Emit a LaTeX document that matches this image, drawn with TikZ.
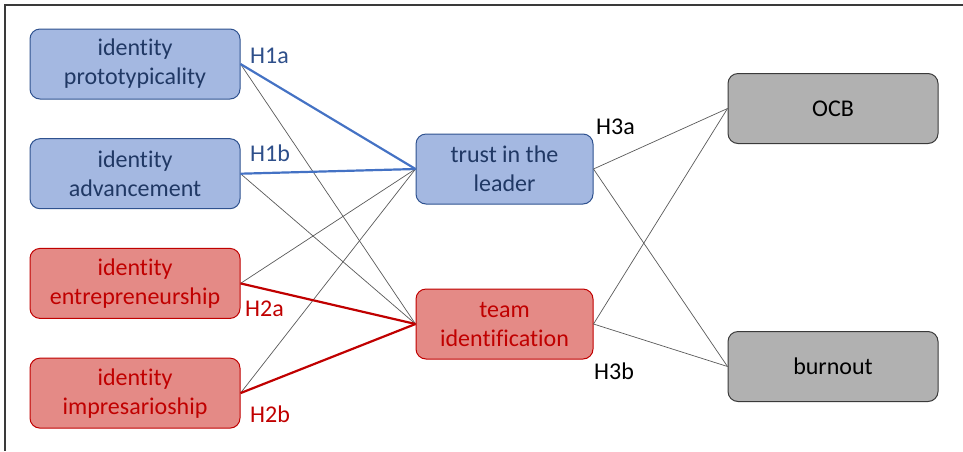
\documentclass[tikz,border=0pt]{standalone}
\usepackage{fontspec}
\setmainfont{Carlito}[Ligatures={NoCommon}]
\usepackage{tikz}
\usetikzlibrary{positioning}
\usepackage{xcolor}

\definecolor{bluefill}{HTML}{A4B8E1}
\definecolor{blueline}{HTML}{2F528F}
\definecolor{bluetext}{HTML}{203864}
\definecolor{bluepath}{HTML}{4472C4}
\definecolor{redfill}{HTML}{E48A86}
\definecolor{redline}{HTML}{C00000}
\definecolor{greyfill}{HTML}{B1B1B1}
\definecolor{greyline}{HTML}{3A3A3A}

\begin{document}
\begin{tikzpicture}[x=1pt,y=-1pt,node distance=109.7pt,auto]
  \tikzstyle{box}=[rectangle,rounded corners=10pt,minimum width=210pt,
    minimum height=70pt,inner sep=0pt,align=center,line width=1pt,
    font=\fontsize{24}{29}\selectfont]
  \tikzstyle{bluebox}=[box,draw=blueline,fill=bluefill,text=bluetext]
  \tikzstyle{redbox}=[box,draw=redline,fill=redfill,text=redline]
  \tikzstyle{greybox}=[box,draw=greyline,fill=greyfill,text=black]
  \tikzstyle{hyp}=[anchor=base west,inner sep=0pt,font=\fontsize{24}{29}\selectfont]
  \tikzstyle{thin}=[draw=black!65,line width=0.7pt]

  \useasboundingbox (0,0) rectangle (963,451);
  \draw[greyline,line width=1.3pt] (963,5) -- (5,5) -- (5,451);

  \node[bluebox] (proto)   at (135,64)        {identity\\prototypicality};
  \node[bluebox] (advance) [below of=proto]   {identity\\advancement};
  \node[redbox]  (entre)   [below of=advance] {identity\\entrepreneurship};
  \node[redbox]  (impres)  [below of=entre]   {identity\\impresarioship};
  \node[bluebox,minimum width=177pt] (trust) at (504.5,169) {trust in the\\leader};
  \node[redbox,minimum width=177pt]  (team)  at (504.5,324) {team\\identification};
  \node[greybox] (ocb)     at (833,108.5)     {OCB};
  \node[greybox] (burnout) at (833,366.5)     {burnout};

  \path[thin]
  (proto.east)   edge (team.west)
  (advance.east) edge (team.west)
  (entre.east)   edge (trust.west)
  (impres.east)  edge (trust.west)
  (trust.east)   edge (ocb.west)
  (trust.east)   edge (burnout.west)
  (team.east)    edge (ocb.west)
  (team.east)    edge (burnout.west)
  ;
  \path[draw=bluepath,line width=2.2pt]
  (proto.east)   edge (trust.west)
  (advance.east) edge (trust.west)
  ;
  \path[draw=redline,line width=2.2pt]
  (entre.east)   edge (team.west)
  (impres.east)  edge (team.west)
  ;

  \node[hyp,text=bluetext!60!bluepath] (h1a) at (250,63)  {H1a};
  \node[hyp,text=bluetext!60!bluepath] (h1b) at (250,161) {H1b};
  \node[hyp,text=redline]              (h2a) at (245,316) {H2a};
  \node[hyp,text=redline]              (h2b) at (250,422) {H2b};
  \node[hyp]                           (h3a) at (596,134) {H3a};
  \node[hyp]                           (h3b) at (594,379) {H3b};
\end{tikzpicture}
\end{document}
